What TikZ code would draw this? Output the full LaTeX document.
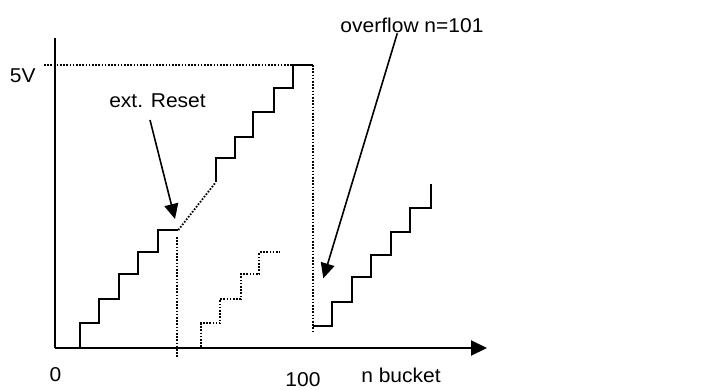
\documentclass[tikz,border=0pt]{standalone}
\usepackage{fontspec}
\setmainfont{Liberation Sans}
\usetikzlibrary{arrows.meta}
\begin{document}
\begin{tikzpicture}[x=1pt,y=-1pt,
  solidline/.style={line width=2pt, line join=miter},
  dotline/.style={line width=1.8pt, dash pattern=on 1.6pt off 1.6pt},
  lbl/.style={font=\fontsize{20}{23}\selectfont, inner sep=0pt, xscale=1.05},
  ptr/.style={line width=1.6pt, -{Triangle[length=15pt,width=14pt]}}]
\useasboundingbox (0,0) rectangle (728,390);
% axes
\coordinate (origin) at (55,348);
\coordinate (ytop) at (55,38);
\coordinate (xend) at (487,348);
\draw[solidline] (origin) -- (ytop);
\draw[solidline, -{Triangle[length=16pt,width=15pt]}] (origin) -- (xend);
% first staircase
\draw[solidline] (80,348) |- (99.3,323) |- (119,299) |- (138,273.5) |- (158,252) |- (178.3,230);
% reset dotted lines
\draw[dotline] (178.3,230) -- (215.7,182.3);
\draw[dotline] (176.7,237) -- (176.7,357);
% second staircase
\draw[solidline] (215.7,182.3) |- (235,158.3) |- (253.3,136.7) |- (274,111.7) |- (293.3,87.7) |- (313.3,65);
% 5V line and overflow drop
\draw[dotline] (44,65) -- (293,65);
\draw[dotline] (313.3,65) -- (313.3,331);
% right staircase
\draw[solidline] (313.3,325.7) -- (331.7,325.7) |- (352.3,301.7) |- (371,276.7) |- (391,255) |- (410,231.7) |- (430.7,208.3) -- (430.7,184);
% ghost staircase
\draw[dotline] (201,347) |- (220,323.3) |- (240.7,299) |- (259.3,274) |- (279.3,252.3);
% labels
\node[lbl] (v5) at (22.7,76) {5V};
\node[lbl, anchor=base] (reset) at (157.5,107.7) {ext. Reset};
\node[lbl, anchor=base] (ovf) at (412,32.3) {overflow n=101};
\node[lbl, anchor=base] (zero) at (55.5,381) {0};
\node[lbl, anchor=base] (hundred) at (303,386.5) {100};
\node[lbl, anchor=base] (nb) at (401,382.3) {n bucket};
% pointers
\coordinate (resetstart) at (150,120);
\coordinate (resettip) at (175,219);
\coordinate (ovfstart) at (397.3,33.3);
\coordinate (ovftip) at (323.3,278.3);
\draw[ptr] (resetstart) -- (resettip);
\draw[ptr] (ovfstart) -- (ovftip);
\end{tikzpicture}
\end{document}
